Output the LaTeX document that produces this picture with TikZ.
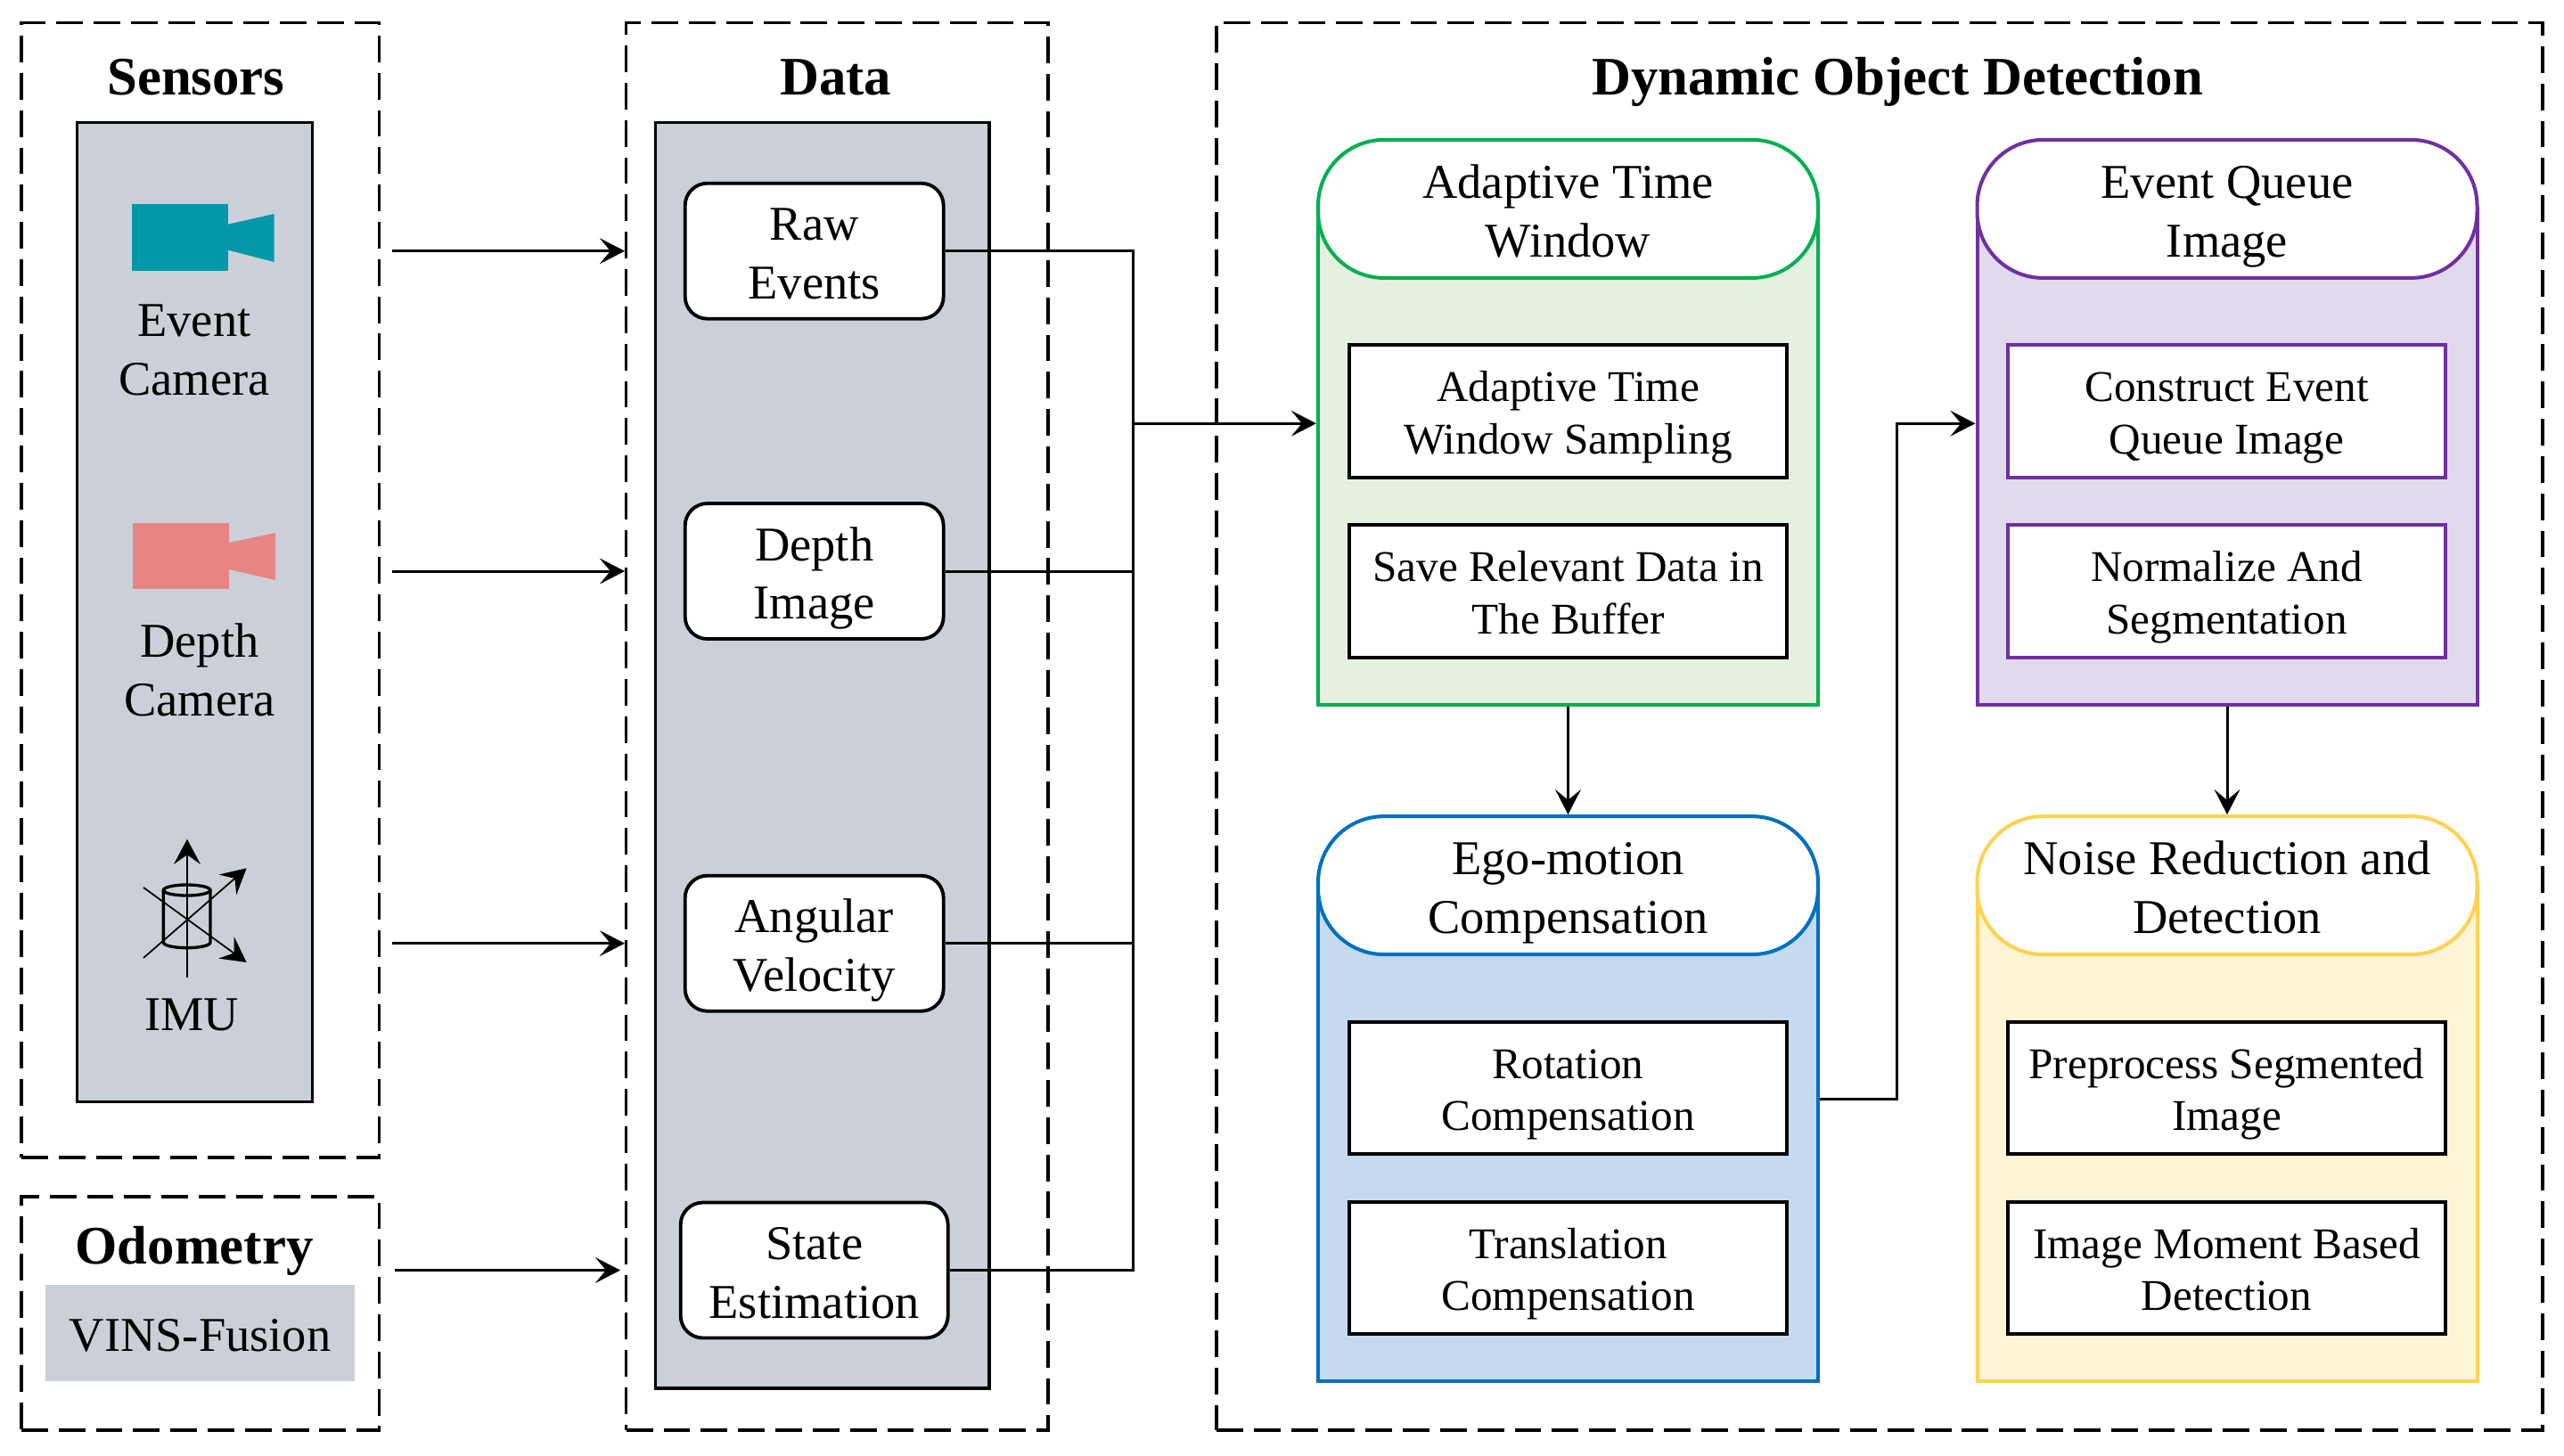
\documentclass[tikz,border=0pt]{standalone}
\usepackage{fontspec}
\setmainfont{Liberation Serif}
\usepackage{tikz}
\usetikzlibrary{positioning, calc, arrows.meta}

\definecolor{boxgray}{RGB}{203,208,216}
\definecolor{camteal}{RGB}{0,152,168}
\definecolor{campink}{RGB}{232,132,132}
\definecolor{grnline}{RGB}{0,176,80}
\definecolor{grnfill}{RGB}{230,240,224}
\definecolor{purline}{RGB}{112,48,160}
\definecolor{purfill}{RGB}{225,218,236}
\definecolor{bluline}{RGB}{0,112,192}
\definecolor{blufill}{RGB}{197,218,238}
\definecolor{ylwline}{RGB}{255,210,80}
\definecolor{ylwfill}{RGB}{255,244,214}

\tikzset{
  txtstrut/.style 2 args={execute at end node={\rule[-#2]{0pt}{#1}}},
  groupbox/.style={draw, line width=0.95pt, dash pattern=on 8.5pt off 3.4pt, inner sep=0pt},
  graybox/.style={draw, line width=0.9pt, fill=boxgray, inner sep=0pt},
  grouptitle/.style={anchor=base, font=\fontsize{17.3}{20}\selectfont\bfseries},
  txt/.style={align=center, font=\fontsize{15.5}{18.7}\selectfont},
  datanode/.style={draw, fill=white, line width=1.1pt, rounded corners=0.25cm, align=center,
    font=\fontsize{15.5}{18.7}\selectfont, minimum width=2.9cm, minimum height=1.52cm,
    inner sep=0pt, txtstrut={38.6pt}{4pt}},
  stage/.style={draw=#1line, fill=#1fill, line width=1.15pt, minimum width=5.61cm,
    minimum height=5.564cm, inner sep=0pt},
  stagehead/.style={draw=#1line, fill=white, line width=1.15pt, rounded corners=0.74cm,
    minimum width=5.61cm, minimum height=1.55cm, align=center,
    font=\fontsize{15.5}{18.7}\selectfont, inner sep=0pt, txtstrut={38.6pt}{4pt}},
  taskbox/.style={draw=#1, fill=white, line width=1.15pt, minimum width=4.91cm,
    minimum height=1.487cm, align=center, font=\fontsize{14}{16.7}\selectfont,
    inner sep=0pt, txtstrut={35.2pt}{4pt}},
  taskbox/.default=black,
  flow/.style={-{Stealth[length=8pt,width=8.2pt,inset=3.4pt]}, line width=0.85pt},
  wire/.style={line width=0.85pt},
  imuaxis/.style={line width=0.5pt, -{Stealth[length=8pt,width=8.5pt,inset=3pt]}}
}

\begin{document}
\begin{tikzpicture}
    \useasboundingbox (0,0) rectangle (28.77,-16.33);

    % センサー
    \node[groupbox, minimum width=4.018cm, minimum height=12.733cm] (sensbox) at (2.248,-6.624) {};
    \node[grouptitle] (senstitle) at (2.20,-1.064) {Sensors};
    \node[graybox, minimum width=2.642cm, minimum height=10.991cm] (sensgray) at (2.183,-6.872) {};

    % イベントカメラ
    \fill[camteal] (1.483,-2.293) rectangle (2.56,-3.04);
    \fill[camteal] (2.56,-2.517) -- (3.077,-2.40) -- (3.077,-2.94) -- (2.56,-2.807) -- cycle;
    \node[txt] (evcam) at (2.18,-3.93) {Event\\Camera};

    % 深度カメラ
    \fill[campink] (1.49,-5.87) rectangle (2.57,-6.61);
    \fill[campink] (2.57,-6.09) -- (3.09,-5.98) -- (3.09,-6.51) -- (2.57,-6.39) -- cycle;
    \node[txt] (dpcam) at (2.24,-7.52) {Depth\\Camera};

    % IMU
    \draw[imuaxis, line width=0.6pt] (2.10,-10.967) -- (2.10,-9.417);
    \draw[imuaxis] (1.61,-9.96) -- (2.767,-10.80);
    \draw[imuaxis] (1.61,-10.75) -- (2.767,-9.743);
    \draw[line width=0.95pt] (2.097,-9.99) ellipse (0.263 and 0.06);
    \draw[line width=0.95pt] (1.834,-9.99) -- (1.834,-10.577) arc (180:360:0.263 and 0.06) -- (2.36,-9.99);
    \node[txt] (imu) at (2.15,-11.39) {IMU};

    % オドメトリ
    \node[groupbox, minimum width=4.018cm, minimum height=2.619cm] (odombox) at (2.248,-14.74) {};
    \node[grouptitle] (odomtitle) at (2.18,-14.18) {Odometry};
    \node[fill=boxgray, minimum width=3.466cm, minimum height=1.08cm, inner sep=0pt,
      font=\fontsize{15.5}{18.7}\selectfont, txtstrut={19.9pt}{4pt}] (vins) at (2.247,-14.96) {VINS-Fusion};

    % データ
    \node[groupbox, minimum width=4.733cm, minimum height=15.793cm] (databox) at (9.394,-8.154) {};
    \node[grouptitle] (datatitle) at (9.376,-1.064) {Data};
    \node[graybox, minimum width=3.743cm, minimum height=14.204cm] (datagray) at (9.229,-8.478) {};
    \node[datanode] (raw) at (9.137,-2.817) {Raw\\Events};
    \node[datanode] (depth) at (9.137,-6.41) {Depth\\Image};
    \node[datanode] (angvel) at (9.137,-10.587) {Angular\\Velocity};
    \node[datanode, minimum width=3.0cm] (state) at (9.137,-14.255) {State\\Estimation};

    % 動的物体検出
    \node[groupbox, minimum width=14.88cm, minimum height=15.793cm] (dodbox) at (21.09,-8.154) {};
    \node[grouptitle] (dodtitle) at (21.29,-1.064) {Dynamic Object Detection};

    % 適応時間窓
    \node[stage=grn] (atw) at (17.595,-5.126) {};
    \node[stagehead=grn] (atwhead) at (17.595,-2.344) {Adaptive Time\\Window};
    \node[taskbox] (atwsamp) at (17.595,-4.615) {Adaptive Time\\Window Sampling};
    \node[taskbox] (atwsave) at (17.595,-6.638) {Save Relevant Data in\\The Buffer};

    % イベントキュー画像
    \node[stage=pur] (eqi) at (24.99,-5.126) {};
    \node[stagehead=pur] (eqihead) at (24.99,-2.344) {Event Queue\\Image};
    \node[taskbox=purline] (eqibuild) at (24.985,-4.615) {Construct Event\\Queue Image};
    \node[taskbox=purline] (eqinorm) at (24.985,-6.638) {Normalize And\\Segmentation};

    % エゴモーション補償
    \node[stage=blu] (ego) at (17.595,-12.718) {};
    \node[stagehead=blu] (egohead) at (17.595,-9.936) {Ego-motion\\Compensation};
    \node[taskbox] (egorot) at (17.595,-12.21) {Rotation\\Compensation};
    \node[taskbox] (egotrans) at (17.595,-14.23) {Translation\\Compensation};

    % ノイズ除去と検出
    \node[stage=ylw] (nrd) at (24.99,-12.718) {};
    \node[stagehead=ylw] (nrdhead) at (24.99,-9.936) {Noise Reduction and\\Detection};
    \node[taskbox] (nrdpre) at (24.985,-12.21) {Preprocess Segmented\\Image};
    \node[taskbox] (nrdmom) at (24.985,-14.23) {Image Moment Based\\Detection};

    % 矢印
    \foreach \n in {raw,depth,angvel}
        \draw[flow] ($(sensbox.east |- \n)+(0.13,0)$) -- (databox.west |- \n);
    \draw[flow] ($(odombox.east |- state)+(0.16,0)$) -- ($(databox.west |- state)+(-0.05,0)$);

    \coordinate (bus) at (12.715,-4.752);
    \foreach \n in {raw,depth,angvel,state}
        \draw[wire] (\n.east) -| (bus);
    \draw[flow] (bus) -- (bus -| atw.west);

    \draw[flow] (atw.south) -- (egohead.north);
    \draw[flow] (eqi.south) -- (nrdhead.north);
    \coordinate (egoturn) at (21.28,-12.33);
    \draw[flow] (egoturn -| ego.east) -- (egoturn) |- (bus -| eqi.west);

\end{tikzpicture}
\end{document}
